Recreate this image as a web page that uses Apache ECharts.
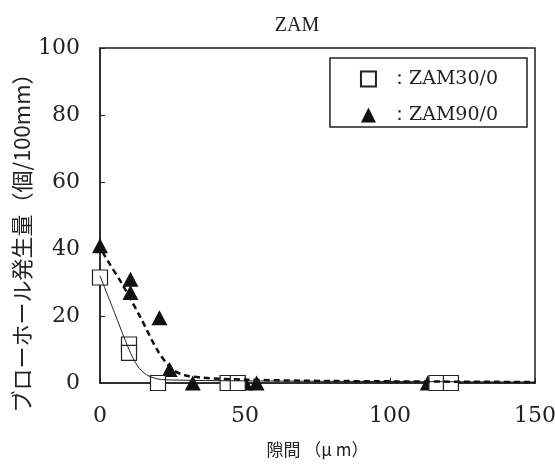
<!DOCTYPE html>
<html><head><meta charset="utf-8">
<script src="https://cdn.jsdelivr.net/npm/echarts@6/dist/echarts.min.js"></script>
<style>html,body{margin:0;padding:0;background:#fff}#c{width:555px;height:466px}</style>
</head><body><div id="c"></div>
<script>
// Measured points
const zam30X = [0, 10, 10, 20, 44, 47.5, 116, 121];
const zam30Y = [31.5, 11.5, 9, 0, 0, 0, 0, 0];
const zam90X = [0, 10.5, 10.5, 20.5, 24, 32, 50, 54, 113];
const zam90Y = [41, 31, 27, 19.5, 4, 0, 0, 0, 0];
// Trend curves
const fit30X = [0, 5, 10, 13, 16, 20, 25, 40, 80, 150];
const fit30Y = [32, 21, 10, 5, 2.5, 1.2, 0.9, 0.7, 0.5, 0.3];
const fit90X = [0, 1, 8, 14, 20, 25, 29, 35, 50, 80, 150];
const fit90Y = [42, 39, 29, 19.5, 9.5, 4, 2.4, 1.6, 1.0, 0.6, 0.3];
const xTicks = [0, 50, 100, 150];
const yTicks = [0, 20, 40, 60, 80, 100];

const zip = (a, b) => a.map((v, i) => [v, b[i]]);
const serif = '"DejaVu Serif","Liberation Serif",serif';
const cjk = '"Noto Sans CJK JP","DejaVu Serif",serif';

const chart = echarts.init(document.getElementById('c'), null, {renderer: 'canvas'});
chart.setOption({
  animation: false,
  backgroundColor: '#fff',
  title: {text: 'ZAM', left: 292, top: 11, textAlign: 'center',
    textStyle: {fontFamily: '"Liberation Serif",serif', fontSize: 20, fontWeight: 'normal', color: '#222'}},
  grid: {left: 100, right: 20, top: 48, bottom: 83, show: true, borderColor: '#222', borderWidth: 1.5,
    backgroundColor: 'transparent', containLabel: false, outerBoundsMode: 'none'},
  legend: {
    orient: 'vertical', right: 28, top: 58, padding: [11, 29, 2, 30], itemGap: 16,
    itemWidth: 15, itemHeight: 15,
    borderColor: '#222', borderWidth: 1.5, backgroundColor: '#fff',
    data: ['：ZAM30/0', '：ZAM90/0'],
    textStyle: {fontFamily: serif, fontSize: 19, lineHeight: 20, color: '#222', padding: [0, 0, 0, 9]}
  },
  xAxis: {
    type: 'value', min: 0, max: 150, interval: 50,
    name: '隙間 （μ m）', nameLocation: 'middle', nameGap: 58, nameMoveOverlap: false,
    nameTextStyle: {fontFamily: cjk, fontSize: 17, color: '#222'},
    axisLine: {lineStyle: {color: '#222', width: 1.5}},
    axisTick: {inside: true, length: 5, lineStyle: {color: '#222'}},
    axisLabel: {fontFamily: serif, fontSize: 22, color: '#222', margin: 22,
      formatter: v => xTicks.includes(v) ? String(v) : ''},
    splitLine: {show: false}
  },
  yAxis: {
    type: 'value', min: 0, max: 100, interval: 20,
    name: 'ブローホール発生量（個/100mm）', nameLocation: 'middle', nameGap: 67, nameMoveOverlap: false,
    nameTextStyle: {fontFamily: cjk, fontSize: 22, color: '#222', padding: [0, 44, 0, 0]},
    axisLine: {show: true, lineStyle: {color: '#222', width: 1.5}},
    axisTick: {inside: true, length: 5, lineStyle: {color: '#222'}},
    axisLabel: {fontFamily: serif, fontSize: 22, color: '#222', margin: 20,
      formatter: v => yTicks.includes(v) ? String(v) : ''},
    splitLine: {show: false}
  },
  series: [
    {name: '：ZAM90/0', type: 'scatter', data: zip(zam90X, zam90Y), symbol: 'triangle', symbolSize: [16, 15],
      itemStyle: {color: '#111', opacity: 1}, z: 2},
    {name: '：ZAM30/0', type: 'scatter', data: zip(zam30X, zam30Y), symbol: 'rect', symbolSize: 15,
      itemStyle: {color: '#fff', borderColor: '#222', borderWidth: 1.2, opacity: 1}, z: 3},
    {name: 'fit30', type: 'line', data: zip(fit30X, fit30Y), smooth: 0.3, showSymbol: false, symbol: 'none',
      lineStyle: {color: '#222', width: 1}, z: 4, silent: true},
    {name: 'fit90', type: 'line', data: zip(fit90X, fit90Y), smooth: 0.3, showSymbol: false, symbol: 'none',
      lineStyle: {color: '#111', width: 2.5, type: [6, 4]}, z: 5, silent: true}
  ]
});
</script></body></html>
